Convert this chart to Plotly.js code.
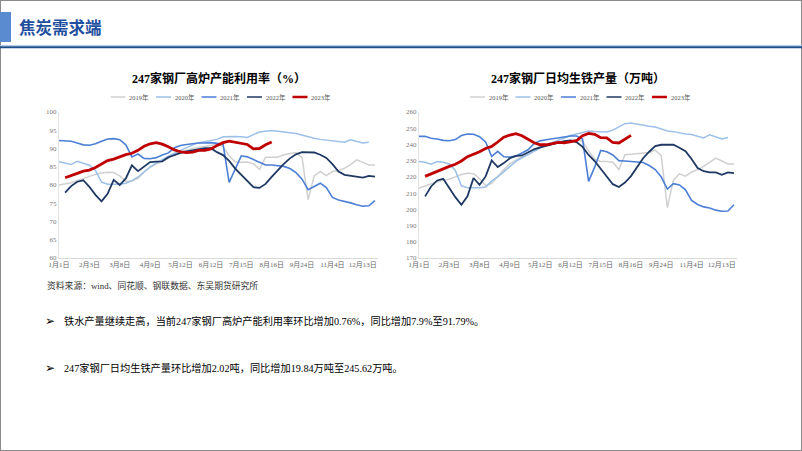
<!DOCTYPE html>
<html>
<head>
<meta charset="utf-8">
<script src="https://cdn.plot.ly/plotly-3.0.1.min.js"></script>
<style>html,body{margin:0;padding:0;background:#fff;}#chart{width:802px;height:451px;}</style>
</head>
<body>
<div id="chart"></div>
<script>
// ---------- data ----------
const seriesNames = ['2019年', '2020年', '2021年', '2022年', '2023年'];
const tickLabels = ['1月1日', '2月3日', '3月8日', '4月9日', '5月12日', '6月12日', '7月15日', '8月16日', '9月24日', '11月4日', '12月13日'];

// 247家钢厂高炉产能利用率（%） weekly
const util2019 = [80.0,80.3,80.6,81.2,81.8,82.4,82.9,83.3,83.5,83.4, 82.5,81.0,81.0,81.8,83.5,84.8,85.8,86.5,87.4,88.2, 88.9,89.5,90.0,90.3,90.5,90.8,91.2,90.5,88.0,86.3, 86.2,86.3,85.8,84.3,87.6,87.6,87.6,88.3,88.7,88.9, 87.5,76.0,82.5,83.7,82.6,83.7,84.0,84.6,85.6,86.9, 86.2,85.5,85.5];
const util2020 = [86.4,86.0,85.6,86.5,86.0,85.4,84.0,80.8,80.2,80.2, 80.2,80.5,81.2,82.2,83.6,85.0,86.0,87.0,87.9,88.7, 89.5,90.3,91.0,91.6,91.9,92.3,92.5,93.2,93.3,93.3, 93.2,93.0,93.8,94.5,94.7,94.9,94.7,94.4,94.3,94.1, 93.6,93.1,92.8,92.5,92.3,92.1,92.0,91.7,92.4,92.0, 91.5,91.7];
const util2021 = [92.2,92.1,92.0,91.5,91.0,90.9,91.3,92.0,92.6,92.7, 92.4,91.0,87.7,88.5,87.3,87.2,87.5,88.2,88.8,90.2, 90.8,91.1,91.3,91.5,91.5,91.6,91.4,91.2,80.7,84.5, 88.0,87.7,87.0,86.1,85.5,85.5,85.4,85.1,84.5,83.4, 81.6,78.7,79.6,80.5,79.3,76.6,75.9,75.6,75.1,74.6, 74.2,74.3,75.7];
const util2022 = [null,77.9,79.7,80.9,81.3,79.5,77.3,75.5,77.6,81.4, 80.0,81.8,85.4,83.8,85.0,86.3,86.4,86.5,87.6,88.3, 88.8,89.2,89.5,89.8,90.1,90.1,89.0,88.2,86.6,84.5, 82.7,81.2,79.4,79.2,80.3,82.2,84.0,85.8,87.3,88.4, 89.0,88.9,88.9,88.3,87.4,85.7,83.7,82.8,82.5,82.2, 82.0,82.5,82.3];
const util2023 = [null,82.0,82.5,83.2,83.8,84.1,84.8,85.8,86.7,87.1, 87.8,88.3,88.7,89.5,90.6,91.3,91.6,91.2,90.5,89.6, 89.1,88.9,89.0,89.5,89.5,89.9,90.8,91.6,92.0,91.7, 91.3,91.1,89.9,90.0,91.0,91.79];

// 247家钢厂日均生铁产量（万吨） weekly
const iron2019 = [213.1,214.5,216.0,217.0,218.0,218.6,220.0,221.5,222.3,222.0, 219.0,214.5,216.0,220.5,224.5,228.0,230.5,232.8,235.0,237.0, 238.8,239.8,240.6,241.3,242.0,242.5,243.0,242.0,236.0,231.0, 229.5,229.5,229.0,224.5,233.7,234.0,234.3,234.3,235.0,236.5, 233.0,201.0,218.0,221.9,220.5,223.0,224.5,226.5,229.0,231.6, 229.8,228.0,227.9];
const iron2020 = [229.5,229.0,227.8,229.5,229.0,228.0,224.0,214.5,213.3,213.1, 213.3,213.7,217.5,220.0,223.0,226.5,229.5,231.8,233.8,235.8, 238.0,239.8,241.2,242.8,244.0,245.5,246.5,247.3,248.3,248.0, 247.7,247.7,248.8,251.0,252.8,253.2,252.4,251.8,251.2,250.8, 249.5,248.3,247.9,247.0,246.4,246.1,245.0,244.0,246.0,244.8, 243.4,244.3];
const iron2021 = [245.0,245.0,243.8,243.4,242.5,242.3,243.0,245.5,246.4,246.3, 244.8,241.5,232.6,235.7,232.4,232.2,232.8,234.5,236.7,240.5, 242.2,242.9,243.5,244.2,245.0,245.2,245.2,243.3,217.2,226.0, 236.3,235.5,233.5,230.0,229.8,229.5,229.0,228.9,227.0,224.5, 219.9,212.5,215.8,215.0,212.0,205.5,203.0,201.5,200.8,199.5, 198.8,199.0,202.8];
const iron2022 = [null,208.0,214.1,217.8,218.8,213.1,207.5,202.8,208.0,219.3, 215.1,220.3,230.2,226.1,228.5,231.5,233.0,233.2,235.0,237.0, 238.2,239.2,240.3,241.2,242.0,242.5,241.5,238.5,233.5,229.8, 225.0,220.5,215.5,213.8,216.5,220.5,226.0,231.5,235.5,239.0, 239.8,239.8,239.8,238.0,235.8,231.0,225.5,223.5,222.8,222.8, 221.3,222.8,222.3];
const iron2023 = [null,220.3,221.9,223.4,225.3,226.5,227.8,229.8,232.5,234.0, 235.5,237.5,238.8,241.5,244.5,245.8,246.6,245.4,243.0,241.0, 239.8,239.8,240.5,241.3,241.0,241.5,242.3,245.4,246.8,246.2, 244.2,244.0,241.2,240.9,243.3,245.62];

// ---------- styling ----------
const W = 802, H = 451;
const X = px => px / W;
const Y = py => 1 - py / H;
const colors = ['#D0D0D0', '#9CC0E8', '#4C7FD6', '#1F3864', '#C00000'];
const widths = [1.5, 1.5, 1.6, 1.8, 2.8];
const serifCJK = '"Liberation Serif", "Noto Sans CJK SC", serif';

const utilSeries = [util2019, util2020, util2021, util2022, util2023];
const ironSeries = [iron2019, iron2020, iron2021, iron2022, iron2023];

const traces = [];
function addTraces(series, xa, ya) {
  series.forEach((ys, i) => {
    traces.push({
      type: 'scatter', mode: 'lines',
      x: ys.map((_, k) => k), y: ys,
      name: seriesNames[i], xaxis: xa, yaxis: ya,
      line: {color: colors[i], width: widths[i], shape: 'linear'},
      connectgaps: false, showlegend: false, hoverinfo: 'skip'
    });
  });
}
addTraces(utilSeries, 'x', 'y');
addTraces(ironSeries, 'x2', 'y2');

const tickVals = tickLabels.map((_, i) => i * 5);
function xAxis(d0, d1, anchor) {
  return {
    domain: [X(d0), X(d1)], range: [0, 52.5], anchor: anchor,
    tickvals: tickVals, ticktext: tickLabels,
    tickfont: {family: serifCJK, size: 7, color: '#666666'},
    showline: true, linecolor: '#D9D9D9', linewidth: 1,
    showgrid: false, zeroline: false, ticks: '', fixedrange: true
  };
}
function yAxis(r, dt, anchor) {
  return {
    domain: [Y(258), Y(112)], range: r, dtick: dt, anchor: anchor,
    tickfont: {family: serifCJK, size: 7, color: '#7A7A7A'},
    showline: true, linecolor: '#E3E3E3', linewidth: 1,
    showgrid: false, zeroline: false, ticks: '', fixedrange: true
  };
}

const shapes = [
  // slide frame
  {type: 'rect', xref: 'paper', yref: 'paper', x0: 0, x1: 1, y0: 0, y1: 1, line: {color: '#8A8A8A', width: 2}},
  // header block and rule
  {type: 'rect', xref: 'paper', yref: 'paper', x0: X(0), x1: X(11), y0: Y(42), y1: Y(12), fillcolor: '#5A8AD0', line: {width: 0}},
  {type: 'line', xref: 'paper', yref: 'paper', x0: 0, x1: 1, y0: Y(45.6), y1: Y(45.6), line: {color: '#A9C8EC', width: 1}},
  {type: 'line', xref: 'paper', yref: 'paper', x0: 0, x1: 1, y0: Y(47.3), y1: Y(47.3), line: {color: '#1F4E8C', width: 2}}
];

const annotations = [
  {xref: 'paper', yref: 'paper', x: X(17), y: Y(27), xanchor: 'left', yanchor: 'middle', showarrow: false,
   text: '<b>焦炭需求端</b>', font: {family: '"Noto Sans CJK SC", sans-serif', size: 16.5, color: '#1F4F9F'}},
  {xref: 'paper', yref: 'paper', x: X(218.5), y: Y(78), xanchor: 'center', yanchor: 'middle', showarrow: false,
   text: '<b>247家钢厂高炉产能利用率（%）</b>', font: {family: serifCJK, size: 12, color: '#000000'}},
  {xref: 'paper', yref: 'paper', x: X(578), y: Y(78), xanchor: 'center', yanchor: 'middle', showarrow: false,
   text: '<b>247家钢厂日均生铁产量（万吨）</b>', font: {family: serifCJK, size: 12, color: '#000000'}},
  {xref: 'paper', yref: 'paper', x: X(45), y: Y(285), xanchor: 'left', yanchor: 'middle', showarrow: false,
   text: '资料来源：wind、同花顺、钢联数据、东吴期货研究所', font: {family: serifCJK, size: 8.8, color: '#333333'}},
  {xref: 'paper', yref: 'paper', x: X(43), y: Y(321), xanchor: 'left', yanchor: 'middle', showarrow: false,
   text: '➢', font: {family: '"DejaVu Sans", sans-serif', size: 12, color: '#000000'}},
  {xref: 'paper', yref: 'paper', x: X(62), y: Y(321), xanchor: 'left', yanchor: 'middle', showarrow: false,
   text: '铁水产量继续走高，当前247家钢厂高炉产能利用率环比增加0.76%，同比增加7.9%至91.79%。', font: {family: serifCJK, size: 10.2, color: '#000000'}},
  {xref: 'paper', yref: 'paper', x: X(43), y: Y(368), xanchor: 'left', yanchor: 'middle', showarrow: false,
   text: '➢', font: {family: '"DejaVu Sans", sans-serif', size: 12, color: '#000000'}},
  {xref: 'paper', yref: 'paper', x: X(62), y: Y(368), xanchor: 'left', yanchor: 'middle', showarrow: false,
   text: '247家钢厂日均生铁产量环比增加2.02吨，同比增加19.84万吨至245.62万吨。', font: {family: serifCJK, size: 10.2, color: '#000000'}}
];

// legends (one per chart)
[218.5, 578].forEach(cx => {
  const start = cx - 108;
  seriesNames.forEach((nm, i) => {
    const x0 = start + i * 45.5;
    shapes.push({type: 'line', xref: 'paper', yref: 'paper', x0: X(x0), x1: X(x0 + 15), y0: Y(97), y1: Y(97),
      line: {color: colors[i], width: i === 4 ? 2.5 : 1.5}});
    annotations.push({xref: 'paper', yref: 'paper', x: X(x0 + 16.5), y: Y(97), xanchor: 'left', yanchor: 'middle', showarrow: false,
      text: nm, font: {family: serifCJK, size: 6.5, color: '#595959'}});
  });
});

const layout = {
  width: W, height: H,
  margin: {l: 0, r: 0, t: 0, b: 0},
  paper_bgcolor: '#FFFFFF', plot_bgcolor: '#FFFFFF',
  showlegend: false,
  xaxis: xAxis(59, 378, 'y'),
  yaxis: yAxis([60, 100], 5, 'x'),
  xaxis2: xAxis(419, 737, 'y2'),
  yaxis2: yAxis([170, 260], 10, 'x2'),
  shapes: shapes,
  annotations: annotations
};

Plotly.newPlot('chart', traces, layout, {displayModeBar: false, staticPlot: true});
</script>
</body>
</html>
